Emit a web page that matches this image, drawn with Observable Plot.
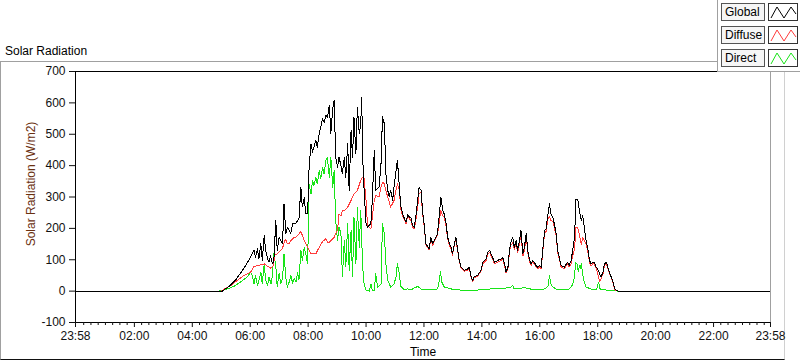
<!DOCTYPE html>
<html><head><meta charset="utf-8">
<script src="https://cdn.jsdelivr.net/npm/d3@7"></script>
<script src="https://cdn.jsdelivr.net/npm/@observablehq/plot@0.6"></script>
<style>
body{margin:0;background:#fff;}
#wrap{position:relative;width:800px;height:361px;overflow:hidden;font-family:"Liberation Sans",Arial,sans-serif;font-size:12px;color:#000;}
#panel{position:absolute;left:0;top:61px;width:783px;height:297px;border-top:1px solid #a0a0a0;border-left:1px solid #a0a0a0;border-bottom:1px solid #111;border-right:1px solid #d0d0d0;}
#wrap svg{position:absolute;left:0;top:0;}
#title{position:absolute;left:5px;top:44px;line-height:14px;white-space:nowrap;}
#ylab{position:absolute;left:31px;top:184px;transform:translate(-50%,-50%) rotate(-90deg);white-space:nowrap;color:#6a3010;line-height:14px;}
#xlab{position:absolute;left:423px;top:345px;transform:translateX(-50%);line-height:14px;white-space:nowrap;}
#legend{position:absolute;left:717px;top:0;width:83px;height:71px;background:#fff;border-left:1px solid #a0a0a0;border-bottom:1px solid #a0a0a0;}
.lname{position:absolute;left:3px;width:42px;height:16px;border:1px solid #555;background:#f6f6f6;line-height:16px;}
.lname span{position:absolute;left:3px;top:0;}
.lsamp{position:absolute;left:50px;width:28px;height:16px;border:1px solid #333;background:#fff;}
</style></head>
<body>
<div id="wrap">
  <div id="panel"></div>
  <div id="title">Solar Radiation</div>
  <div id="ylab">Solar Radiation (W/m2)</div>
  <div id="xlab">Time</div>
  <div id="legend"></div>
</div>
<script>
// ---- data (minutes since midnight; -2 = 23:58 previous day, 1438 = 23:58) ----
const seriesNames = ["Global", "Diffuse", "Direct"];
const seriesColors = ["#000000", "#ff3c3c", "#18e418"];

const globalT = [-2,298,302,316,330,344,357,364,368,371,375,378,382,385,389,392,396,399,402,406,409,413,416,420,423,427,430,434,437,444,448,454,461,465,468,472,475,479,482,486,489,492,496,499,503,506,510,513,517,520,524,527,531,534,537,541,544,548,551,555,558,562,565,569,572,575,579,582,586,589,591,593,596,600,603,610,613,617,620,627,631,634,638,641,645,648,651,655,658,665,669,672,676,679,683,686,690,693,696,700,703,707,710,714,717,721,724,731,734,738,741,748,752,755,759,762,766,769,773,776,779,783,786,790,793,797,804,811,814,817,821,824,831,838,842,849,852,856,859,862,866,873,880,883,887,890,894,897,900,904,907,911,914,918,921,925,928,932,935,939,942,945,949,952,956,959,963,966,970,973,977,980,983,987,990,994,997,1001,1004,1011,1015,1018,1021,1025,1028,1032,1035,1039,1042,1046,1049,1053,1056,1060,1063,1066,1070,1073,1077,1080,1084,1087,1091,1094,1098,1101,1104,1108,1111,1115,1122,1438];
const globalV = [0,0,0,15,36,66,98,119,130,108,135,103,151,98,177,130,103,92,114,87,98,225,130,172,162,151,278,183,204,183,215,215,231,331,268,299,247,247,395,470,443,459,480,459,502,523,549,538,560,554,592,502,581,608,427,395,427,400,374,427,363,470,321,512,427,555,438,586,501,533,618,427,321,215,204,215,289,448,321,332,406,555,533,374,321,300,321,289,332,417,332,270,246,233,220,243,236,233,210,204,236,290,331,321,257,204,151,135,172,151,161,183,246,300,257,246,215,172,151,140,119,151,172,130,98,76,66,71,76,50,34,45,50,66,92,103,124,130,119,108,92,98,103,108,87,61,76,130,156,172,140,161,130,161,193,119,140,183,130,98,87,98,92,82,76,82,76,130,193,199,246,278,246,236,215,183,130,103,82,76,87,92,82,98,130,172,294,289,257,225,241,193,161,130,98,87,92,92,76,71,55,45,61,87,92,76,61,45,34,7,0,0];

const diffuseT = [-2,299,320,333,347,361,368,378,389,396,403,408,411,416,427,431,434,437,441,444,451,455,465,472,479,486,489,496,503,510,517,520,524,534,541,544,548,551,555,562,569,575,582,589,593,596,600,603,610,613,617,620,627,631,634,638,641,645,651,658,662,665,669,672,676,679,683,686,690,693,696,700,703,707,710,714,717,721,724,731,734,738,741,748,752,755,759,762,766,769,773,776,779,783,786,790,793,797,804,811,814,817,821,824,831,838,842,849,852,856,859,862,866,873,880,883,887,890,894,897,900,904,907,911,914,918,921,925,928,932,935,939,942,945,949,952,956,959,963,966,970,973,977,980,983,987,990,994,997,1001,1004,1011,1015,1018,1021,1025,1028,1032,1035,1039,1042,1046,1049,1053,1056,1060,1063,1066,1070,1073,1077,1080,1084,1087,1091,1094,1098,1101,1104,1108,1111,1115,1122,1438];
const diffuseV = [0,0,18,34,50,61,79,82,87,79,73,82,114,119,137,159,165,151,151,161,172,172,190,161,140,119,119,119,140,158,167,156,156,172,196,245,240,258,257,268,289,310,321,353,363,358,289,210,199,236,289,305,300,332,347,342,321,300,268,289,321,342,321,260,240,228,215,240,230,226,205,199,225,270,312,314,250,200,148,131,166,146,156,178,225,257,240,235,206,166,146,135,115,146,168,126,95,73,63,68,72,47,31,42,47,62,88,98,118,124,113,103,87,93,98,103,82,57,71,124,145,155,133,152,122,152,184,112,130,175,124,93,82,93,87,77,72,77,71,124,185,190,230,238,225,222,203,177,125,98,78,71,82,87,77,88,112,135,205,200,180,150,170,160,148,122,92,80,87,87,72,55,32,40,56,82,87,72,57,42,30,5,0,0];

const directT = [-2,295,313,326,340,354,361,365,368,371,375,378,382,385,389,392,396,399,403,406,409,413,416,420,423,427,430,434,437,441,444,448,451,455,458,461,465,468,472,475,479,482,486,489,492,496,499,503,506,510,513,517,520,524,527,531,534,537,541,544,548,551,555,558,562,565,569,572,575,579,582,586,589,593,596,600,607,610,613,617,620,624,631,634,638,641,645,651,658,662,665,669,672,679,686,693,700,707,714,721,734,748,752,754,757,762,776,790,811,838,859,880,900,904,907,928,949,970,977,980,983,987,997,1018,1025,1028,1032,1034,1037,1040,1042,1044,1046,1049,1051,1056,1066,1077,1080,1082,1085,1094,1108,1122,1438];
const directV = [0,0,7,15,29,45,61,45,23,50,18,34,61,23,87,34,18,45,23,50,119,80,13,58,23,40,119,40,13,30,50,25,40,30,60,35,130,98,140,119,87,342,310,353,337,363,342,385,358,395,374,417,425,363,427,331,385,225,161,204,183,45,162,77,215,66,193,45,236,87,268,140,257,77,23,2,0,23,2,2,55,13,23,215,183,87,34,13,23,45,87,55,15,5,7,4,10,15,7,4,5,7,34,63,29,13,7,4,2,4,7,7,13,18,7,11,4,7,15,50,23,13,4,4,13,21,45,92,87,61,82,71,87,55,34,13,7,4,18,29,7,4,2,0,0];

const yTicks = [-100, 0, 100, 200, 300, 400, 500, 600, 700];
const xTicks = [-2, 120, 240, 360, 480, 600, 720, 840, 960, 1080, 1200, 1320, 1438];
const xTickLabels = ["23:58","02:00","04:00","06:00","08:00","10:00","12:00","14:00","16:00","18:00","20:00","22:00","23:58"];

// ---- build ----
const rows = (T, V) => T.map((t, i) => ({t, v: V[i]}));
const xMinor = d3.range(15, 1438, 15).filter(m => m % 120 !== 0);
const labelOf = new Map(xTicks.map((t, i) => [t, xTickLabels[i]]));

const chart = Plot.plot({
  width: 800, height: 361,
  marginLeft: 75, marginRight: 30, marginTop: 71, marginBottom: 39,
  x: {domain: [-2, 1438], axis: null},
  y: {domain: [-100, 700], axis: null},
  style: {fontFamily: "'Liberation Sans', Arial, sans-serif", fontSize: "12px", background: "transparent", color: "#111", overflow: "visible"},
  marks: [
    Plot.lineY(rows(directT, directV), {x: "t", y: "v", stroke: seriesColors[2], strokeWidth: 1}),
    Plot.lineY(rows(diffuseT, diffuseV), {x: "t", y: "v", stroke: seriesColors[1], strokeWidth: 1}),
    Plot.lineY(rows(globalT, globalV), {x: "t", y: "v", stroke: seriesColors[0], strokeWidth: 1}),
    Plot.ruleY([700], {stroke: "#000"}),
    Plot.ruleY([-100], {stroke: "#000"}),
    Plot.ruleX([-2], {stroke: "#000"}),
    Plot.ruleX([1438], {stroke: "#a0a0a0"}),
    Plot.axisY({ticks: yTicks, tickSize: 6, tickPadding: 4, label: null, tickFormat: d => String(d)}),
    Plot.axisX({ticks: xTicks, tickSize: 5, tickPadding: 4, label: null, tickFormat: d => labelOf.get(d)}),
    Plot.axisX({ticks: xMinor, tickSize: 3, label: null, tickFormat: () => ""})
  ]
});
chart.querySelectorAll("[aria-label='line'] path").forEach(p => p.setAttribute("shape-rendering", "crispEdges"));
document.getElementById("wrap").insertBefore(chart, document.getElementById("title"));

// legend
const leg = document.getElementById("legend");
seriesNames.forEach((name, i) => {
  const top = 3 + i * 23;
  const nb = document.createElement("div");
  nb.className = "lname"; nb.style.top = top + "px";
  nb.innerHTML = "<span>" + name + "</span>";
  leg.appendChild(nb);
  const sb = document.createElement("div");
  sb.className = "lsamp"; sb.style.top = top + "px";
  sb.innerHTML = '<svg width="28" height="16" style="position:absolute;left:0;top:0"><polyline points="2,14 8,3 15,14 22,3 27,10" fill="none" stroke="' + seriesColors[i] + '" stroke-width="1"/></svg>';
  leg.appendChild(sb);
});
</script>
</body></html>
